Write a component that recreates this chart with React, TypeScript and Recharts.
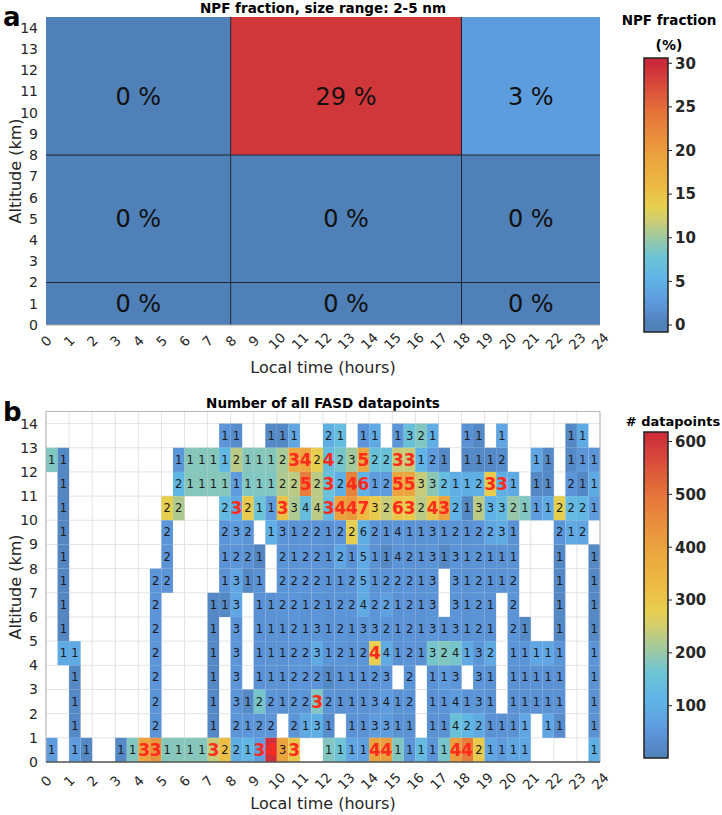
import { CartesianGrid, ReferenceArea, ReferenceLine, Scatter, ScatterChart, XAxis, YAxis } from "recharts";

const FONT = "'DejaVu Sans', Verdana, sans-serif";
const INK = "#262626";

const HOUR_TICKS = [0, 1, 2, 3, 4, 5, 6, 7, 8, 9, 10, 11, 12, 13, 14, 15, 16, 17, 18, 19, 20, 21, 22, 23, 24];
const ALT_TICKS = [0, 1, 2, 3, 4, 5, 6, 7, 8, 9, 10, 11, 12, 13, 14];

// panel a: NPF fraction (%) in coarse bins
const NPF_TIME_BINS = [[0, 8], [8, 18], [18, 24]];
const NPF_ALT_BINS = [[0, 2], [2, 8], [8, 14.5]];
const NPF_LABEL_ALT = [1, 5, 10.75];
const NPF_VALUES = [
  [0, 0, 0], // 0-2 km
  [0, 0, 0], // 2-8 km
  [0, 29, 3], // 8+ km
];
const NPF_TICKS = [0, 5, 10, 15, 20, 25, 30];
const NPF_BAR = [-0.8, 30.6];

// panel b: FASD datapoints, half-hour x 1 km cells; rows listed from 13-14 km down to 0-1 km
const FASD_LABELS = [
  "........" + ".......1" + "1..111.." + "21.11.13" + "21..11.1" + ".....11.",
  "11......" + "...11111" + "21112342" + "42352233" + "121.1112" + "..11.111",
  ".1......" + "...21111" + "11112252" + "32461255" + "33211233" + "1.11.211",
  ".1......" + "..22...2" + "32113344" + "34473263" + "24321333" + "21112221",
  ".1......" + "..2....2" + "32.13122" + "12262141" + "13121223" + "1...212.",
  ".1......" + "..2....1" + "221.2122" + "12151142" + "13131211" + "1...1..1",
  ".1......" + ".22....1" + "311.2222" + "11251222" + "13.31211" + "2...1..1",
  ".1......" + ".2....11" + "3.112212" + "12242212" + "13.3121." + "2...1..1",
  ".1......" + ".2....1." + "3.111213" + "12133212" + "1313121." + "21..1..1",
  ".11....." + ".2....1." + "3.111223" + "12124412" + "1324132." + "11111..1",
  "..1....." + ".2....1." + "3.111222" + "111123.2" + ".113.31." + "11111..1",
  "..1....." + ".2....1." + "31221223" + "21113412" + ".114131." + "11111..1",
  "..1....." + ".2....1." + "2122.213" + "1.113311" + ".1142211" + "11.11..1",
  "1.11..11" + "33111132" + "213433.." + "11114411" + "11144211" + "11.....1",
];
const FASD_COUNTS = [
  [0, 0, 0, 0, 0, 0, 0, 0, 0, 0, 0, 0, 0, 0, 0, 50, 30, 0, 0, 20, 20, 80, 0, 0, 100, 140, 0, 50, 90, 0, 50, 150, 180, 100, 0, 0, 40, 20, 0, 80, 0, 0, 0, 0, 0, 20, 90, 0],
  [180, 20, 0, 0, 0, 0, 0, 0, 0, 0, 0, 50, 185, 185, 185, 120, 230, 185, 185, 185, 215, 380, 390, 280, 140, 170, 210, 390, 150, 150, 240, 240, 110, 60, 20, 0, 20, 20, 20, 30, 0, 0, 80, 20, 0, 20, 50, 50],
  [0, 15, 0, 0, 0, 0, 0, 0, 0, 0, 0, 120, 185, 185, 185, 185, 60, 180, 180, 180, 220, 230, 480, 230, 150, 100, 470, 110, 60, 60, 400, 390, 240, 190, 140, 100, 100, 100, 290, 100, 90, 0, 20, 20, 0, 50, 20, 90],
  [0, 15, 0, 0, 0, 0, 0, 0, 0, 0, 280, 220, 0, 0, 0, 130, 90, 290, 160, 60, 310, 220, 140, 230, 140, 400, 420, 330, 290, 240, 300, 290, 230, 300, 400, 110, 20, 230, 110, 130, 200, 180, 60, 90, 280, 130, 120, 60],
  [0, 15, 0, 0, 0, 0, 0, 0, 0, 0, 50, 0, 0, 0, 0, 50, 60, 50, 0, 100, 50, 40, 45, 45, 40, 50, 280, 100, 45, 40, 50, 40, 40, 45, 40, 45, 40, 45, 80, 90, 40, 0, 0, 0, 45, 90, 80, 0],
  [0, 15, 0, 0, 0, 0, 0, 0, 0, 0, 45, 0, 0, 0, 0, 40, 45, 40, 15, 0, 45, 40, 45, 45, 40, 80, 40, 90, 40, 20, 45, 40, 40, 45, 20, 45, 40, 45, 40, 40, 40, 0, 0, 0, 20, 0, 0, 20],
  [0, 15, 0, 0, 0, 0, 0, 0, 0, 45, 45, 0, 0, 0, 0, 40, 80, 20, 40, 0, 45, 45, 45, 45, 40, 40, 45, 90, 40, 45, 45, 45, 40, 45, 0, 45, 40, 45, 40, 40, 45, 0, 0, 0, 20, 0, 0, 20],
  [0, 15, 0, 0, 0, 0, 0, 0, 0, 45, 0, 0, 0, 0, 20, 20, 80, 0, 40, 40, 45, 45, 40, 45, 40, 45, 45, 90, 45, 70, 40, 45, 40, 45, 0, 45, 40, 45, 40, 0, 45, 0, 0, 0, 20, 0, 0, 20],
  [0, 15, 0, 0, 0, 0, 0, 0, 0, 45, 0, 0, 0, 0, 20, 0, 50, 0, 40, 40, 40, 45, 40, 50, 40, 45, 40, 50, 50, 45, 40, 45, 40, 50, 40, 50, 40, 45, 40, 0, 45, 20, 0, 0, 20, 0, 0, 20],
  [0, 90, 90, 0, 0, 0, 0, 0, 0, 45, 0, 0, 0, 0, 20, 0, 50, 0, 40, 40, 40, 45, 45, 90, 45, 45, 40, 45, 280, 90, 40, 45, 40, 170, 180, 170, 90, 50, 90, 0, 45, 45, 80, 80, 45, 0, 0, 45],
  [0, 0, 20, 0, 0, 0, 0, 0, 0, 45, 0, 0, 0, 0, 20, 0, 50, 0, 40, 40, 40, 45, 45, 45, 20, 40, 40, 40, 45, 50, 0, 45, 0, 40, 60, 50, 0, 50, 40, 0, 40, 40, 40, 40, 40, 0, 0, 40],
  [0, 0, 20, 0, 0, 0, 0, 0, 0, 45, 0, 0, 0, 0, 20, 0, 50, 20, 170, 45, 40, 45, 45, 180, 45, 40, 40, 40, 50, 60, 40, 45, 0, 40, 45, 60, 45, 50, 40, 0, 40, 40, 40, 40, 40, 0, 0, 40],
  [0, 0, 20, 0, 0, 0, 0, 0, 0, 45, 0, 0, 0, 0, 20, 0, 50, 50, 50, 50, 0, 45, 90, 100, 30, 0, 40, 40, 60, 60, 40, 40, 0, 40, 40, 150, 120, 90, 40, 40, 40, 80, 0, 80, 30, 0, 0, 40],
  [60, 0, 60, 20, 0, 0, 20, 180, 400, 430, 185, 185, 185, 185, 240, 320, 100, 120, 70, 610, 400, 300, 0, 0, 180, 160, 80, 70, 400, 410, 180, 50, 130, 50, 170, 410, 480, 290, 80, 60, 80, 80, 0, 0, 0, 0, 0, 100],
];
// columns whose label is printed in large red type
const FASD_RED = [
  [], [21, 22, 24, 27, 30, 31], [22, 24, 26, 27, 30, 31, 38, 39], [16, 20, 24, 25, 26, 27, 30, 31, 33, 34],
  [], [], [], [], [], [28], [], [23], [], [8, 9, 14, 18, 19, 21, 28, 29, 35, 36],
];
const FASD_MAX = 618;
const FASD_TICKS = [100, 200, 300, 400, 500, 600];
const FASD_BAR = [1, 618];

const CMAP: [number, string][] = [
  [0, "#5080b8"], [0.07, "#5b93d6"], [0.12, "#60a3e2"], [0.18, "#5fb4e6"], [0.26, "#6cc4d6"],
  [0.33, "#9cc8a4"], [0.4, "#cfcd72"], [0.45, "#e6d050"], [0.52, "#ecbd44"], [0.65, "#eba23e"],
  [0.8, "#e6773a"], [1, "#cc2a3a"],
];

function hex(c: string) {
  return [1, 3, 5].map((i) => parseInt(c.slice(i, i + 2), 16));
}
function cmap(t: number) {
  const v = Math.max(0, Math.min(1, t));
  for (let i = 1; i < CMAP.length; i++) {
    if (v <= CMAP[i][0]) {
      const [t0, c0] = CMAP[i - 1];
      const [t1, c1] = CMAP[i];
      const f = (v - t0) / (t1 - t0);
      const a = hex(c0), b = hex(c1);
      return `rgb(${a.map((x, k) => Math.round(x + (b[k] - x) * f)).join(",")})`;
    }
  }
  return CMAP[CMAP.length - 1][1];
}

const npfBlocks = NPF_ALT_BINS.flatMap(([y1, y2], r) =>
  NPF_TIME_BINS.map(([x1, x2], c) => ({ x1, x2, y1, y2, v: NPF_VALUES[r][c] })));
const npfLabels = NPF_ALT_BINS.flatMap((_, r) =>
  NPF_TIME_BINS.map(([x1, x2], c) => ({ x: (x1 + x2) / 2, y: NPF_LABEL_ALT[r], label: `${NPF_VALUES[r][c]} %` })));

const fasdCells = FASD_LABELS.flatMap((row, i) => {
  const alt = FASD_LABELS.length - 1 - i;
  return row.split("").map((ch, c) => ({
    label: ch, count: FASD_COUNTS[i][c], red: FASD_RED[i].includes(c),
    x1: c / 2, x2: c / 2 + 0.5, y1: alt, y2: alt + 1, x: c / 2 + 0.25, y: alt + 0.5,
  })).filter((d) => d.label !== ".");
});

function RotTick(p: any) {
  return (
    <g transform={`translate(${p.x},${p.y + p.lift})`}>
      <text transform="rotate(-45)" textAnchor="middle" dominantBaseline="central" fontSize={13.5}
        fill={INK} fontFamily={FONT}>{p.payload.value}</text>
    </g>
  );
}

function BigLabel(p: any) {
  return (
    <text x={p.cx} y={p.cy} textAnchor="middle" dominantBaseline="central" fontSize={24} fill="#111" fontFamily={FONT}>
      {p.payload.label}
    </text>
  );
}

function CellLabel(p: any) {
  const d = p.payload;
  return (
    <text x={p.cx} y={p.cy} textAnchor="middle" dominantBaseline="central" fontFamily={FONT}
      fontSize={d.red ? 17 : 11.5} fontWeight={d.red ? 700 : 400} fill={d.red ? "#ff2b1c" : "#1a1a1a"}>
      {d.label}
    </text>
  );
}

const yTick = { fontSize: 14, fill: INK, fontFamily: FONT };
const cbTick = { fontSize: 15, fill: INK, fontFamily: FONT, fontWeight: 700 };

function ColorBar({ id, span, ticks, top, height, mTop }: {
  id: string; span: number[]; ticks: number[]; top: number; height: number; mTop: number;
}) {
  const [lo, hi] = span;
  const scaleMax = id === "cbNpf" ? 30 : FASD_MAX;
  // gradient runs top (hi) -> bottom (lo); offsets must increase
  const stops = CMAP.map(([t, c]) => ({ off: (hi - t * scaleMax) / (hi - lo), c })).reverse();
  return (
    <div style={{ position: "absolute", left: 600, top }}>
      <ScatterChart width={122} height={height} margin={{ top: mTop, right: 0, bottom: 12, left: 44 }}>
        <defs>
          <linearGradient id={id} x1="0" y1="0" x2="0" y2="1">
            {stops.map((s, i) => <stop key={i} offset={Math.max(0, Math.min(1, s.off))} stopColor={s.c} />)}
          </linearGradient>
        </defs>
        <XAxis type="number" dataKey="x" domain={[0, 1]} hide />
        <YAxis type="number" dataKey="y" orientation="right" domain={[lo, hi]} ticks={ticks} interval={0}
          width={54} tick={cbTick} tickSize={4} tickMargin={3} tickLine={{ stroke: INK }} axisLine={false} allowDataOverflow />
        <ReferenceArea x1={0} x2={1} y1={lo} y2={hi} fill={`url(#${id})`} fillOpacity={1} stroke="#222" strokeWidth={1.5} />
        <Scatter data={[{ x: 0.5, y: lo }]} isAnimationActive={false} shape={() => <g />} />
      </ScatterChart>
    </div>
  );
}

export default function App() {
  return (
    <div style={{ position: "relative", width: 722, height: 815, background: "#fff", fontFamily: FONT }}>
      <style>{"body{margin:0}"}</style>

      <div style={{ position: "absolute", left: 0, top: 0 }}>
        <ScatterChart width={722} height={380} margin={{ top: 17, right: 122, bottom: 10, left: 0 }}>
          <XAxis type="number" dataKey="x" domain={[0, 24]} ticks={HOUR_TICKS} interval={0} height={45}
            tick={(p: any) => <RotTick {...p} lift={8} />} tickLine={false} axisLine={{ stroke: "#aaa" }} allowDataOverflow />
          <YAxis type="number" dataKey="y" domain={[0, 14.5]} ticks={ALT_TICKS} interval={0} width={46}
            tick={yTick} tickLine={false} axisLine={false} allowDataOverflow />
          {npfBlocks.map((b, i) => (
            <ReferenceArea key={i} x1={b.x1} x2={b.x2} y1={b.y1} y2={b.y2} fill={cmap(b.v / 30)} fillOpacity={1} stroke="none" />
          ))}
          {NPF_TIME_BINS.slice(1).map(([x]) => <ReferenceLine key={`x${x}`} x={x} stroke="#1c2633" strokeWidth={1} />)}
          {NPF_ALT_BINS.slice(1).map(([y]) => <ReferenceLine key={`y${y}`} y={y} stroke="#1c2633" strokeWidth={1} />)}
          <Scatter data={npfLabels} isAnimationActive={false} shape={(p: any) => <BigLabel {...p} />} />
        </ScatterChart>
      </div>

      <div style={{ position: "absolute", left: 0, top: 380 }}>
        <ScatterChart width={722} height={420} margin={{ top: 31.5, right: 122, bottom: 8, left: 0 }}>
          <CartesianGrid stroke="#e3e3e3" />
          <XAxis type="number" dataKey="x" domain={[0, 24]} ticks={HOUR_TICKS} interval={0} height={30}
            tick={(p: any) => <RotTick {...p} lift={11} />} tickLine={false} axisLine={{ stroke: INK }} allowDataOverflow />
          <YAxis type="number" dataKey="y" domain={[0, 14.5]} ticks={ALT_TICKS} interval={0} width={46}
            tick={yTick} tickLine={false} axisLine={false} allowDataOverflow />
          {fasdCells.map((d, i) => (
            <ReferenceArea key={i} x1={d.x1} x2={d.x2} y1={d.y1} y2={d.y2} fill={cmap(d.count / FASD_MAX)} fillOpacity={1} stroke="none" />
          ))}
          <ReferenceArea x1={0} x2={24} y1={0} y2={14.5} fill="none" fillOpacity={0} stroke="#b5b5b5" />
          <Scatter data={fasdCells} isAnimationActive={false} shape={(p: any) => <CellLabel {...p} />} />
        </ScatterChart>
      </div>

      <ColorBar id="cbNpf" span={NPF_BAR} ticks={NPF_TICKS} top={0} height={344} mTop={58} />
      <ColorBar id="cbFasd" span={FASD_BAR} ticks={FASD_TICKS} top={380} height={390} mTop={52} />

      <svg width={722} height={815} style={{ position: "absolute", left: 0, top: 0, pointerEvents: "none" }}
        fontFamily={FONT} fill="#000">
        <text x={3} y={26} fontSize={26} fontWeight={700}>a</text>
        <text x={3} y={421} fontSize={26} fontWeight={700}>b</text>
        <text x={323} y={13} fontSize={13.5} fontWeight={700} textAnchor="middle">NPF fraction, size range: 2-5 nm</text>
        <text x={323} y={408} fontSize={13.5} fontWeight={700} textAnchor="middle">Number of all FASD datapoints</text>
        <text x={669} y={25} fontSize={13.5} fontWeight={700} textAnchor="middle">NPF fraction</text>
        <text x={669} y={50} fontSize={14} fontWeight={700} textAnchor="middle">(%)</text>
        <text x={673} y={426} fontSize={13} fontWeight={700} textAnchor="middle"># datapoints</text>
        <text x={323} y={373} fontSize={16} fill={INK} textAnchor="middle">Local time (hours)</text>
        <text x={323} y={809} fontSize={16} fill={INK} textAnchor="middle">Local time (hours)</text>
        <text transform="translate(21,171) rotate(-90)" fontSize={16} fill={INK} textAnchor="middle">Altitude (km)</text>
        <text transform="translate(21,587) rotate(-90)" fontSize={16} fill={INK} textAnchor="middle">Altitude (km)</text>
      </svg>
    </div>
  );
}
